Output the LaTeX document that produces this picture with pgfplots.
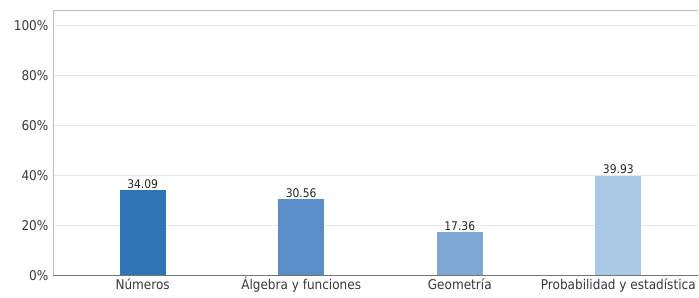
\documentclass[border=0pt]{standalone}
\usepackage{pgfplots}
\pgfplotsset{compat=1.18}
\usepackage{fontspec}
\setmainfont{DejaVu Sans Condensed}
\definecolor{c1}{HTML}{2E75B6}
\definecolor{c2}{HTML}{5A8EC6}
\definecolor{c3}{HTML}{7EA8D2}
\definecolor{c4}{HTML}{A9C8E4}
\begin{document}
\begin{tikzpicture}
\begin{axis}[
  scale only axis,
  width=646bp, height=266bp,
  xmin=-0.566, xmax=3.5,
  ymin=0, ymax=106.4,
  xtick={0,1,2,3},
  xticklabels={Números,Álgebra y funciones,Geometría,Probabilidad y estadística},
  ytick={0,20,40,60,80,100},
  yticklabel={\pgfmathprintnumber{\tick}\%},
  /pgf/number format/assume math mode=true,
  tick label style={font=\fontsize{13.5}{15}\selectfont, text=black!78},
  major tick length=0pt,
  ymajorgrids,
  grid style={black!9, line width=0.9pt},
  axis line style={black!25},
  axis x line*=bottom,
  axis y line*=left,
  x axis line style={black!55},
  xticklabel style={anchor=base, yshift=-14.5bp},
  yticklabel style={xshift=-1bp},
  clip=false,
]
\draw[black!25] (axis cs:-0.566,106.4) -- (axis cs:3.5,106.4);
\addplot[ybar, bar width=46bp, fill=c1, draw=none,
  nodes near coords, nodes near coords style={font=\fontsize{12}{13}\selectfont, text=black!85, inner sep=1.5bp, /pgf/number format/.cd, fixed, fixed zerofill, precision=2, assume math mode=true}]
  coordinates {(0,34.09)};
\addplot[ybar, bar width=46bp, fill=c2, draw=none,
  nodes near coords, nodes near coords style={font=\fontsize{12}{13}\selectfont, text=black!85, inner sep=1.5bp, /pgf/number format/.cd, fixed, fixed zerofill, precision=2, assume math mode=true}]
  coordinates {(1,30.56)};
\addplot[ybar, bar width=46bp, fill=c3, draw=none,
  nodes near coords, nodes near coords style={font=\fontsize{12}{13}\selectfont, text=black!85, inner sep=1.5bp, /pgf/number format/.cd, fixed, fixed zerofill, precision=2, assume math mode=true}]
  coordinates {(2,17.36)};
\addplot[ybar, bar width=46bp, fill=c4, draw=none,
  nodes near coords, nodes near coords style={font=\fontsize{12}{13}\selectfont, text=black!85, inner sep=1.5bp, /pgf/number format/.cd, fixed, fixed zerofill, precision=2, assume math mode=true}]
  coordinates {(3,39.93)};
\end{axis}
\path[use as bounding box] ([shift={(-53bp,-22bp)}]current axis.south west) rectangle ([shift={(0bp,10bp)}]current axis.north east);
\end{tikzpicture}
\end{document}
